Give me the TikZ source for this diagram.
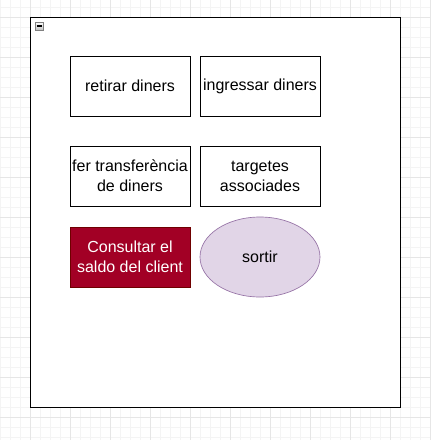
\documentclass[tikz,border=0pt]{standalone}
\usepackage{fontspec}
\setmainfont{Liberation Sans}
\usetikzlibrary{shapes.geometric}
\definecolor{gridminor}{HTML}{F4F4F4}
\definecolor{gridmajor}{HTML}{E6E6E6}
\definecolor{menured}{HTML}{A20025}
\definecolor{menureddark}{HTML}{6F0000}
\definecolor{exitfill}{HTML}{E1D5E7}
\definecolor{exitline}{HTML}{9673A6}
\tikzset{optbox/.style={draw, fill=white, line width=0.75pt, minimum width=90pt,
  minimum height=45pt, inner sep=0pt, align=center, font=\fontsize{12}{15}\selectfont},
  optsel/.style={optbox, draw=menureddark, fill=menured, text=white},
  optexit/.style={ellipse, draw=exitline, fill=exitfill, line width=0.5pt,
  minimum width=90pt, minimum height=60pt, font=\fontsize{12}{15}\selectfont},
  menu/.style={x=0.75pt, y=-0.75pt}}
\begin{document}
\begin{tikzpicture}[menu]
    \useasboundingbox (0,0) rectangle (430,440);
    % grid behind the diagram
    \fill[white] (0,0) rectangle (430,440);
    \foreach \gx in {0,10,...,430} \draw[gridminor, line width=0.75pt] (\gx,0) -- (\gx,440);
    \foreach \gy in {7,17,...,437} \draw[gridminor, line width=0.75pt] (0,\gy) -- (430,\gy);
    \foreach \gx in {-10,30,...,430} \draw[gridmajor, line width=0.75pt] (\gx,0) -- (\gx,440);
    \foreach \gy in {17,57,...,437} \draw[gridmajor, line width=0.75pt] (0,\gy) -- (430,\gy);
    % container
    \draw[line width=0.75pt, fill=white] (30.5,17.5) rectangle (400.5,407.5);
    \node[draw=gray, line width=0.5pt, top color=white, bottom color=gray!50, minimum size=6pt,
      inner sep=0pt] (fold) at (39,26) {};
    \draw[line width=0.9pt] (36.5,26) -- (41.5,26);
    % options
    \node[optbox] (retirar) at (130,86) {retirar diners};
    \node[optbox] (ingressar) at (260,86) {ingressar diners};
    \node[optbox] (transf) at (130,176) {fer transferència\\de diners};
    \node[optbox] (targetes) at (260,176) {targetes\\associades};
    \node[optsel] (consultar) at (130,257) {Consultar el\\saldo del client};
    \node[optexit] (sortir) at (260,257) {sortir};
\end{tikzpicture}
\end{document}
